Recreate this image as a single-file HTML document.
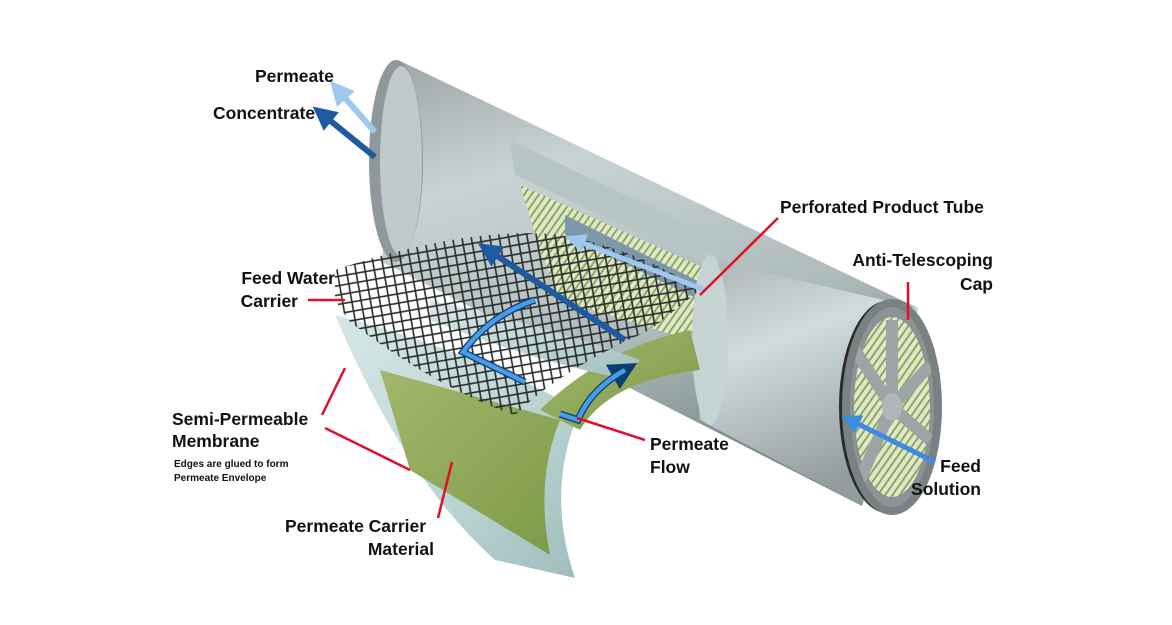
<!DOCTYPE html>
<html><head><meta charset="utf-8"><style>
html,body{margin:0;padding:0;background:#fff}
svg{display:block}
text{font-family:"Liberation Sans",sans-serif;font-weight:bold;fill:#111}
</style></head><body>
<svg width="1172" height="625" viewBox="0 0 1172 625" xmlns="http://www.w3.org/2000/svg">
<defs>
<linearGradient id="cyl" x1="0" y1="0" x2="0.35" y2="1">
<stop offset="0" stop-color="#9aa6a6"/><stop offset="0.3" stop-color="#c8d4d4"/><stop offset="0.7" stop-color="#aebbbb"/><stop offset="1" stop-color="#7d8989"/></linearGradient>
<linearGradient id="cyl2" x1="0" y1="0" x2="0.35" y2="1">
<stop offset="0" stop-color="#aab6b6"/><stop offset="0.4" stop-color="#d0dcdc"/><stop offset="1" stop-color="#909c9d"/></linearGradient>
<linearGradient id="mem" x1="0" y1="0" x2="1" y2="1">
<stop offset="0" stop-color="#d6e8e6"/><stop offset="0.6" stop-color="#bad4d2"/><stop offset="1" stop-color="#9fbcbc"/></linearGradient>
<linearGradient id="grn" x1="0" y1="0" x2="1" y2="1">
<stop offset="0" stop-color="#a3b76c"/><stop offset="1" stop-color="#7d9a48"/></linearGradient>
<pattern id="mesh" width="13" height="13" patternUnits="userSpaceOnUse" patternTransform="rotate(35)">
<path d="M0 0 L13 13 M13 0 L0 13" stroke="#2a2a2a" stroke-width="1.6" fill="none"/></pattern>
<pattern id="spiral" width="6" height="6" patternUnits="userSpaceOnUse" patternTransform="rotate(-55)">
<rect width="6" height="6" fill="#dfe8cf"/><rect width="6" height="2" fill="#8fa85a"/></pattern>
<marker id="ah" viewBox="0 0 10 10" refX="5" refY="5" markerWidth="4" markerHeight="4" orient="auto"><path d="M0 0L10 5L0 10z" fill="context-stroke"/></marker>
</defs>

<!-- cylinder body -->
<path d="M398 60 L918 308 L862 506 L382 262 Z" fill="url(#cyl)"/>
<path d="M520 185 L720 275 L700 300 L690 340 L560 300 L540 250 Z" fill="url(#spiral)"/>
<path d="M510 140 L720 240 L718 270 L515 175 Z" fill="#b8c5c5"/>
<path d="M565 215 L700 282 L700 300 L565 235 Z" fill="#7d98aa"/>
<path d="M720 262 L918 308 L862 506 L700 420 Q690 330 720 262 Z" fill="url(#cyl2)"/>
<ellipse cx="710" cy="340" rx="18" ry="85" fill="#c7d4d4"/>
<!-- left end cap -->
<ellipse cx="396" cy="161" rx="27" ry="101" fill="#8f989a"/>
<ellipse cx="401" cy="161" rx="21" ry="95" fill="#c0caca"/>
<!-- right end cap -->
<ellipse cx="887" cy="407" rx="48" ry="106" fill="#2a2a2a"/>
<ellipse cx="892" cy="407" rx="46" ry="104" fill="#8c9394"/>
<ellipse cx="892" cy="407" rx="38" ry="90" fill="url(#spiral)"/>
<g stroke="#9ea5a6" stroke-width="12" fill="none">
<line x1="892" y1="407" x2="892" y2="320"/><line x1="892" y1="407" x2="930" y2="365"/><line x1="892" y1="407" x2="930" y2="440"/>
<line x1="892" y1="407" x2="860" y2="480"/><line x1="892" y1="407" x2="855" y2="350"/></g>
<ellipse cx="892" cy="407" rx="10" ry="14" fill="#b0b7b8"/>
<ellipse cx="892" cy="407" rx="46" ry="104" fill="none" stroke="#7a8183" stroke-width="8"/>

<!-- membrane sheet -->
<path d="M335 315 Q470 350 580 410 Q545 490 575 578 L495 560 Q405 480 335 315 Z" fill="url(#mem)"/>
<path d="M380 370 L560 420 Q535 480 550 555 L410 470 Z" fill="url(#grn)"/>
<path d="M540 410 Q600 350 690 330 L700 370 Q610 380 580 430 Z" fill="url(#grn)"/>
<path d="M430 300 Q560 330 640 360 L620 378 Q530 360 430 320 Z" fill="url(#mem)"/>
<!-- mesh -->
<path d="M335 270 Q470 225 560 235 Q640 250 700 290 L650 330 Q560 370 515 415 Q440 390 350 322 L335 300 Z" fill="url(#mesh)"/>

<!-- arrows -->
<line x1="625" y1="340" x2="488" y2="250" stroke="#1f5aa0" stroke-width="6" marker-end="url(#ah)"/>
<path d="M525 382 L463 352 Q490 315 535 300" stroke="#0c3d70" stroke-width="7" fill="none"/>
<path d="M525 382 L463 352 Q490 315 535 300" stroke="#4a9be8" stroke-width="4.5" fill="none"/>
<path d="M560 414 L578 420 Q590 390 625 370" stroke="#0c3d70" stroke-width="7" fill="none" marker-end="url(#ah)"/>
<path d="M560 414 L578 420 Q590 390 625 370" stroke="#4a9be8" stroke-width="4.5" fill="none"/>
<line x1="705" y1="290" x2="575" y2="240" stroke="#9fc8ef" stroke-width="5" marker-end="url(#ah)"/>
<line x1="375" y1="132" x2="338" y2="90" stroke="#9fc8ef" stroke-width="6" marker-end="url(#ah)"/>
<line x1="375" y1="157" x2="322" y2="114" stroke="#1f5aa0" stroke-width="6" marker-end="url(#ah)"/>
<line x1="935" y1="462" x2="850" y2="420" stroke="#3b8ce0" stroke-width="5" marker-end="url(#ah)"/>

<g stroke="#e0102a" stroke-width="2.5" fill="none">
<line x1="778" y1="218" x2="700" y2="295"/>
<line x1="908" y1="282" x2="908" y2="320"/>
<line x1="308" y1="300" x2="345" y2="300"/>
<line x1="322" y1="415" x2="345" y2="368"/>
<line x1="325" y1="428" x2="410" y2="470"/>
<line x1="438" y1="518" x2="452" y2="462"/>
<line x1="577" y1="418" x2="645" y2="440"/>
</g>

<g font-size="17.5">
<text x="255" y="82">Permeate</text>
<text x="213" y="119">Concentrate</text>
<text x="780" y="213">Perforated Product Tube</text>
<text x="993" y="266" text-anchor="end">Anti-Telescoping</text>
<text x="993" y="290" text-anchor="end">Cap</text>
<text x="335" y="284" text-anchor="end">Feed Water</text>
<text x="298" y="307" text-anchor="end">Carrier</text>
<text x="172" y="425">Semi-Permeable</text>
<text x="172" y="447">Membrane</text>
<text x="285" y="532">Permeate Carrier</text>
<text x="434" y="555" text-anchor="end">Material</text>
<text x="650" y="450">Permeate</text>
<text x="650" y="473">Flow</text>
<text x="981" y="472" text-anchor="end">Feed</text>
<text x="981" y="495" text-anchor="end">Solution</text>
</g>
<text x="174" y="467" font-size="10">Edges are glued to form</text>
<text x="174" y="481" font-size="10">Permeate Envelope</text>
</svg>
</body></html>
